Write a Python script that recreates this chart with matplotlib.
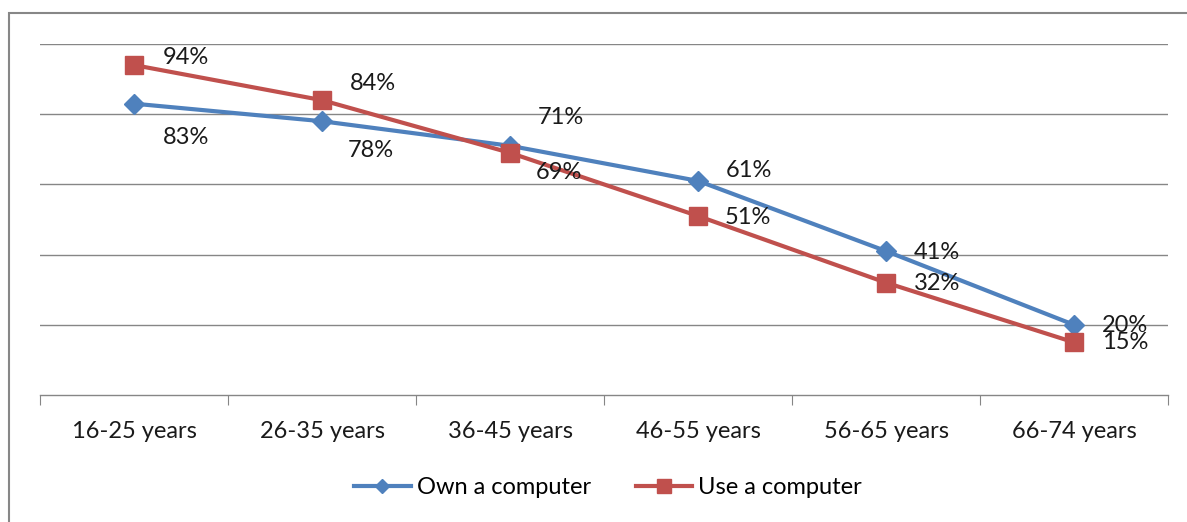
import matplotlib
matplotlib.use("Agg")
import matplotlib.pyplot as plt
from matplotlib.patches import Rectangle
from matplotlib.lines import Line2D

categories = ["16-25 years", "26-35 years", "36-45 years", "46-55 years", "56-65 years", "66-74 years"]
own = [0.83, 0.78, 0.71, 0.61, 0.41, 0.20]
use = [0.94, 0.84, 0.69, 0.51, 0.32, 0.15]
own_labels = ["83%", "78%", "71%", "61%", "41%", "20%"]
use_labels = ["94%", "84%", "69%", "51%", "32%", "15%"]

# label offsets in pixels (dx, dy up)
own_off = [(52, -34), (49, -29), (51, 28), (51, 10), (51, -1), (51, -1)]
use_off = [(52, 8), (51, 17), (49, -20), (50, -2), (51, -1), (51, 0)]

BLUE = "#4F81BD"
RED = "#C0504D"
GRID = "#868686"
FS = 17

plt.rcParams['font.family'] = ['Lato', 'DejaVu Sans']

W, H = 1187, 522
fig = plt.figure(figsize=(W / 100, H / 100), dpi=100)
fig.patch.set_facecolor("white")

# outer frame
fig.patches.append(Rectangle((9 / W, -0.05), 1.2, (H - 13) / H + 0.05, transform=fig.transFigure,
                             fill=False, edgecolor="#878787", linewidth=1.5))

ax = fig.add_axes([40 / W, (H - 395) / H, (1168 - 40) / W, (395 - 44) / H])
x = list(range(len(categories)))
ax.set_xlim(-0.5, len(categories) - 0.5)
ax.set_ylim(0, 1.0)

for y in [0.2, 0.4, 0.6, 0.8, 1.0]:
    ax.axhline(y, color=GRID, linewidth=1.0, zorder=0)

ax.plot(x, own, color=BLUE, linewidth=3, marker="D", markersize=10, zorder=3, label="Own a computer")
ax.plot(x, use, color=RED, linewidth=3, marker="s", markersize=13, zorder=4, label="Use a computer")

for xi, v, t, (dx, dy) in zip(x, own, own_labels, own_off):
    ax.annotate(t, (xi, v), xytext=(dx, dy), textcoords="offset pixels",
                ha="center", va="center", fontsize=FS, color="#1a1a1a", zorder=5)
for xi, v, t, (dx, dy) in zip(x, use, use_labels, use_off):
    ax.annotate(t, (xi, v), xytext=(dx, dy), textcoords="offset pixels",
                ha="center", va="center", fontsize=FS, color="#1a1a1a", zorder=5)

for s in ["top", "right", "left"]:
    ax.spines[s].set_visible(False)
ax.spines["bottom"].set_color(GRID)
ax.spines["bottom"].set_linewidth(1.0)
ax.set_yticks([])
ax.set_xticks([i - 0.5 for i in range(len(categories) + 1)])
ax.set_xticklabels([])
ax.set_xticks(x, minor=True)
ax.set_xticklabels(categories, minor=True, fontsize=FS, color="#1a1a1a")
ax.tick_params(axis="x", which="major", length=7, color=GRID, direction="out")
ax.tick_params(axis="x", which="minor", length=0, pad=19)

handles = [Line2D([], [], color=BLUE, linewidth=3, marker="D", markersize=7),
           Line2D([], [], color=RED, linewidth=3, marker="s", markersize=10)]
fig.legend(handles, ["Own a computer", "Use a computer"], loc="center",
           bbox_to_anchor=(608 / W, 1 - 488 / H), ncol=2, frameon=False,
           fontsize=FS, handlelength=2.4, handletextpad=0.25, columnspacing=1.9)

fig.savefig("out.png", dpi=100)
